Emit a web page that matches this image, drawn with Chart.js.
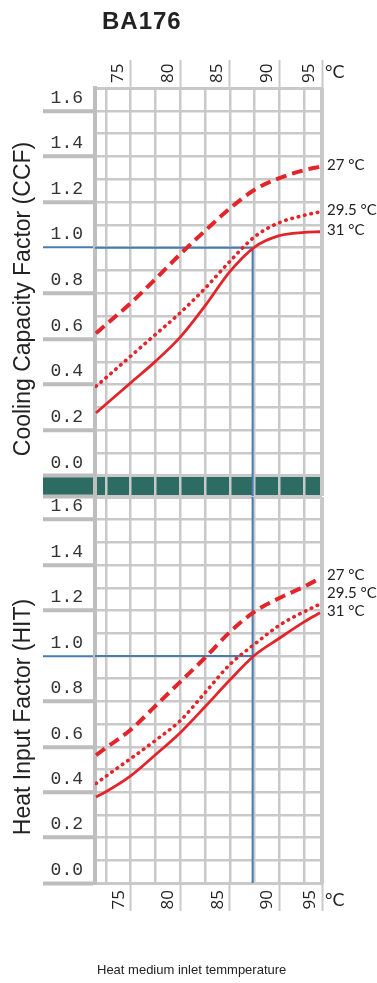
<!DOCTYPE html>
<html>
<head>
<meta charset="utf-8">
<script src="https://cdn.jsdelivr.net/npm/chart.js@4.4.1/dist/chart.umd.min.js"></script>
<style>
  html, body { margin: 0; padding: 0; background: #fff; }
  #page { position: relative; width: 377px; height: 983px; overflow: hidden;
          font-family: "Liberation Sans", Arial, sans-serif; color: #222; }
  .box { position: absolute; left: 0; width: 377px; }
  #ccfBox { top: 0; height: 520px; }
  #hitBox { top: 477px; height: 506px; }
  .txt { position: absolute; white-space: nowrap; line-height: 1; }
  #model { left: 102px; top: 9px; font-size: 24px; font-weight: bold; letter-spacing: 1px; }
  .unit { left: 325px; font-family: Lato, sans-serif; font-size: 18px; }
  .ytitle { font-size: 23px; transform: translate(-50%, -50%) rotate(-90deg); }
  #caption { left: 97px; top: 963px; font-size: 13px; }
</style>
</head>
<body>
<div id="page">
  <div class="box" id="ccfBox"><canvas id="ccf"></canvas></div>
  <div class="box" id="hitBox"><canvas id="hit"></canvas></div>
  <div class="txt" id="model">BA176</div>
  <div class="txt unit" style="top:62px">°C</div>
  <div class="txt unit" style="top:890px">°C</div>
  <div class="txt ytitle" style="left:22px; top:299px">Cooling Capacity Factor (CCF)</div>
  <div class="txt ytitle" style="left:22px; top:717px">Heat Input Factor (HIT)</div>
  <div class="txt" id="caption">Heat medium inlet temmperature</div>
</div>
<script>
// Heat medium inlet temperature (°C) for every curve
const inletTemp = [71.5, 72.5, 75, 77.5, 80, 82.5, 85, 87.5, 90, 92.5, 94.1];

// Curve names (cooling water temperature)
const seriesNames = ['27 °C', '29.5 °C', '31 °C'];

// Cooling capacity factor
const ccf27  = [0.625, 0.663, 0.757, 0.863, 0.972, 1.074, 1.172, 1.254, 1.305, 1.340, 1.355];
const ccf295 = [0.393, 0.430, 0.525, 0.620, 0.715, 0.822, 0.940, 1.048, 1.110, 1.142, 1.157];
const ccf31  = [0.276, 0.314, 0.408, 0.502, 0.608, 0.745, 0.895, 1.003, 1.053, 1.067, 1.070];

// Heat input factor
const hit27  = [0.563, 0.595, 0.675, 0.780, 0.886, 0.992, 1.105, 1.195, 1.255, 1.305, 1.342];
const hit295 = [0.438, 0.470, 0.548, 0.628, 0.715, 0.838, 0.962, 1.052, 1.135, 1.195, 1.228];
const hit31  = [0.379, 0.402, 0.472, 0.565, 0.662, 0.776, 0.894, 1.003, 1.078, 1.150, 1.190];

// Axis ticks
const xTickValues = [75, 80, 85, 90, 95];
const xTickLabels = ['75', '80', '85', '90', '95'];
const yTickValues = [0, 0.2, 0.4, 0.6, 0.8, 1.0, 1.2, 1.4, 1.6];
const yTickLabels = ['0.0', '0.2', '0.4', '0.6', '0.8', '1.0', '1.2', '1.4', '1.6'];

// Design point
const designTemp = 87.3;
const designFactor = 1.0;

// ---- styling ----
const X_MIN = 71.4, X_MAX = 94.3, X_STEP = 2.5;
const Y_MAX = 1.7, Y_STEP = 0.1;
const BAND_DEPTH = 0.088;           // divider strip below the CCF zero line
const RED = '#e3252b', BLUE = '#4a7cb3', BAND = '#2d6c62';
const GRID = '#c9c9c9', TICK = '#bdbdbd', EDGE = '#bfbfbf';
const NONE = 'rgba(0,0,0,0)';

Chart.defaults.animation = false;
Chart.defaults.font.family = '"Liberation Sans", Arial, sans-serif';

const near = (a, b) => Math.abs(a - b) < 1e-6;
const labelIndex = v => yTickValues.findIndex(t => near(t, v));

function stepValues(from, to, step) {
  const out = [];
  for (let k = 0; from + k * step <= to + 1e-9; k++) out.push(+(from + k * step).toFixed(4));
  return out;
}

function curve(values) {
  return inletTemp.map((t, i) => ({ x: t, y: values[i] }));
}

function curveSets(v27, v295, v31) {
  const base = { borderColor: RED, pointRadius: 0, fill: false, cubicInterpolationMode: 'monotone', order: 0 };
  return [
    { ...base, endLabel: seriesNames[0], data: curve(v27), borderWidth: 4, borderDash: [11, 6] },
    { ...base, endLabel: seriesNames[1], data: curve(v295), borderWidth: 3.6, borderDash: [0.5, 6], borderCapStyle: 'round' },
    { ...base, endLabel: seriesNames[2], data: curve(v31), borderWidth: 2.8 }
  ];
}

// Labels at the right end of each curve; lower label stays on its line, upper ones move up to stay clear
const endLabels = {
  id: 'endLabels',
  afterDatasetsDraw(chart) {
    const { ctx, chartArea } = chart;
    const items = [];
    chart.data.datasets.forEach((ds, i) => {
      if (!ds.endLabel) return;
      const pts = chart.getDatasetMeta(i).data;
      items.push({ text: ds.endLabel, y: pts[pts.length - 1].y });
    });
    items.sort((a, b) => b.y - a.y);
    let prev = null;
    items.forEach(it => {
      it.ty = it.y - 2;
      if (prev !== null) it.ty = Math.min(it.ty, prev - 18);
      prev = it.ty;
    });
    ctx.save();
    ctx.font = '15px Lato, sans-serif';
    ctx.fillStyle = '#222';
    ctx.textAlign = 'left';
    ctx.textBaseline = 'middle';
    items.forEach(it => ctx.fillText(it.text, chartArea.right + 5, it.ty));
    ctx.restore();
  }
};

// Dark divider strip under the CCF panel, painted before the grid so the grid shows through it
const divider = {
  id: 'divider',
  beforeDraw(chart, args, opts) {
    if (!opts.show) return;
    const { ctx, chartArea, scales } = chart;
    const y0 = scales.y.getPixelForValue(0);
    const y1 = scales.y.getPixelForValue(scales.y.min);
    const left = chartArea.left - scales.y.options.grid.tickLength;
    ctx.save();
    ctx.fillStyle = BAND;
    ctx.fillRect(left, y0, chartArea.right - left, y1 - y0);
    ctx.restore();
  }
};

function buildChart(id, opt) {
  const yMin = opt.yMin;
  const datasets = curveSets(...opt.series);
  // blue guide lines through the design point
  datasets.push({
    data: [{ x: X_MIN, y: designFactor }, { x: designTemp, y: designFactor }],
    borderColor: BLUE, borderWidth: 2, pointRadius: 0, order: 5
  });
  datasets.push({
    data: [{ x: designTemp, y: opt.vFrom }, { x: designTemp, y: yMin }],
    borderColor: BLUE, borderWidth: 2, pointRadius: 0, order: 5
  });

  return new Chart(document.getElementById(id), {
    type: 'line',
    data: { datasets },
    plugins: [divider, endLabels],
    options: {
      responsive: true,
      maintainAspectRatio: false,
      events: [],
      layout: { padding: { top: opt.padTop, bottom: opt.padBottom, left: 0, right: 55 } },
      plugins: {
        legend: { display: false },
        tooltip: { enabled: false },
        divider: { show: opt.band }
      },
      scales: {
        // grid lines every 2.5 °C
        x: {
          type: 'linear', position: opt.labelsAt === 'top' ? 'bottom' : 'top',
          min: X_MIN, max: X_MAX,
          afterBuildTicks: s => {
            s.ticks = stepValues(72.5, 92.5, X_STEP).concat([X_MAX]).map(v => ({ value: v }));
          },
          grid: {
            color: GRID,
            lineWidth: c => (c.tick && near(c.tick.value, X_MAX) ? 4 : 2.5),
            drawTicks: false
          },
          border: { display: false },
          ticks: { display: false }
        },
        // temperature labels with their separators
        xl: {
          type: 'linear', position: opt.labelsAt,
          min: X_MIN, max: X_MAX,
          afterBuildTicks: s => {
            s.ticks = xTickValues.map(v => ({ value: Math.min(v, s.max) }));
          },
          afterFit: s => { s.height = opt.xAxisHeight; },
          grid: { drawOnChartArea: false, drawTicks: true, tickLength: 28, tickWidth: 2, tickColor: GRID },
          border: { display: false },
          ticks: {
            autoSkip: false, minRotation: 90, maxRotation: 90,
            padding: opt.xPad, labelOffset: opt.xOffset,
            color: '#222', font: { family: '"Open Sans", sans-serif', size: 17 },
            callback: (v, i) => xTickLabels[i]
          }
        },
        y: {
          type: 'linear', min: yMin, max: Y_MAX,
          afterBuildTicks: s => {
            const vals = stepValues(0, Y_MAX, Y_STEP);
            if (yMin < 0) vals.unshift(yMin);
            s.ticks = vals.map(v => ({ value: v }));
          },
          afterFit: s => { s.width = 95; },
          grid: {
            color: GRID,
            lineWidth: c => (c.tick && (near(c.tick.value, Y_MAX) || near(c.tick.value, 0) || near(c.tick.value, yMin)) ? 3 : 2.5),
            drawTicks: true,
            tickLength: 52,
            tickWidth: c => (c.tick && near(c.tick.value, designFactor) ? 2 : 4),
            tickColor: c => {
              if (!c.tick) return NONE;
              const v = c.tick.value;
              if (near(v, designFactor)) return BLUE;
              if (labelIndex(v) >= 0 || near(v, yMin)) return TICK;
              return NONE;
            }
          },
          border: { display: true, width: 4, color: EDGE },
          ticks: {
            autoSkip: false, padding: -40, labelOffset: -13,
            color: '#333', font: { family: '"Liberation Mono", monospace', size: 18 },
            callback: v => { const i = labelIndex(v); return i >= 0 ? yTickLabels[i] : ''; }
          }
        }
      }
    }
  });
}

buildChart('ccf', {
  series: [ccf27, ccf295, ccf31],
  yMin: -BAND_DEPTH, vFrom: designFactor, band: true,
  labelsAt: 'top', xAxisHeight: 88, xPad: -23, xOffset: 8,
  padTop: 0, padBottom: 24
});

buildChart('hit', {
  series: [hit27, hit295, hit31],
  yMin: 0, vFrom: Y_MAX, band: false,
  labelsAt: 'bottom', xAxisHeight: 100, xPad: -21, xOffset: -12,
  padTop: 20, padBottom: 0
});
</script>
</body>
</html>
